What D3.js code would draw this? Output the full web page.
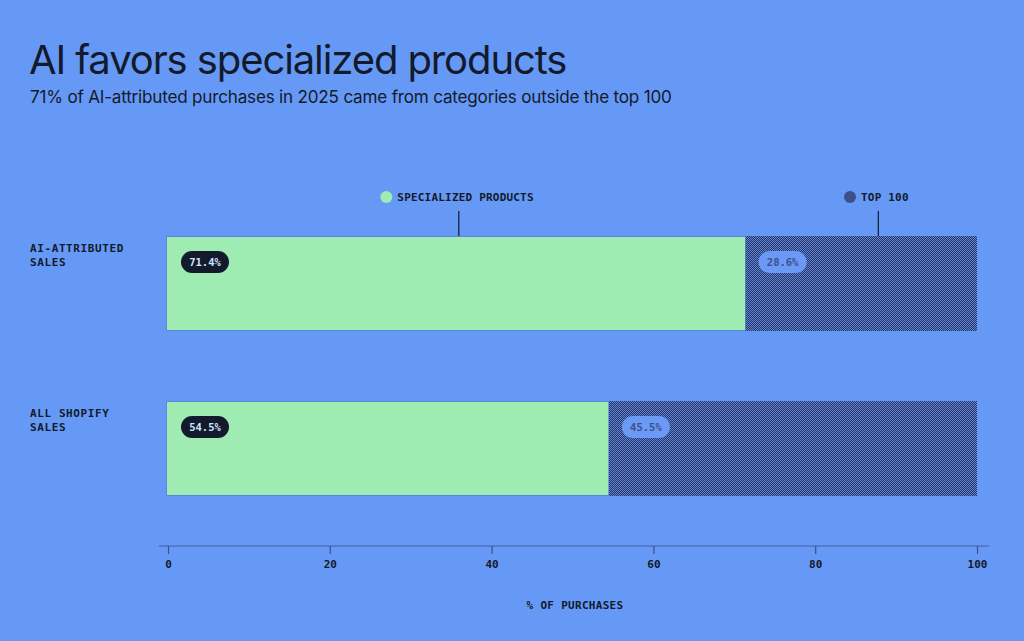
<!DOCTYPE html>
<html><head><meta charset="utf-8">
<script src="https://cdn.jsdelivr.net/npm/d3@7"></script>
<style>
html,body{margin:0;padding:0;background:#6699f5;}
svg{display:block;}
</style></head>
<body>
<svg id="chart" width="1024" height="641"></svg>
<script>
const title = "AI favors specialized products";
const subtitle = "71% of AI-attributed purchases in 2025 came from categories outside the top 100";
const categories = [["AI-ATTRIBUTED","SALES"],["ALL SHOPIFY","SALES"]];
const specialized = [71.4, 54.5];
const top100 = [28.6, 45.5];
const seriesNames = ["SPECIALIZED PRODUCTS","TOP 100"];
const ticks = [0,20,40,60,80,100];
const axisTitle = "% OF PURCHASES";

const bg = "#6699f5", green = "#9eecb1", navy = "#3d4f86";
const mono = "'DejaVu Sans Mono', 'Liberation Mono', monospace";
const svg = d3.select("#chart");

svg.append("rect").attr("width",1024).attr("height",641).attr("fill",bg);

const defs = svg.append("defs");
const pat = defs.append("pattern").attr("id","checker").attr("width",2).attr("height",2).attr("patternUnits","userSpaceOnUse");
pat.append("rect").attr("width",2).attr("height",2).attr("fill","#28335e");
pat.append("rect").attr("x",0).attr("y",0).attr("width",1).attr("height",1).attr("fill","#5f86dc");
pat.append("rect").attr("x",1).attr("y",1).attr("width",1).attr("height",1).attr("fill","#5f86dc");

svg.append("text").attr("x",29).attr("y",74).text(title)
  .attr("font-family","Inter, 'Noto Sans', sans-serif").attr("font-size",40).attr("letter-spacing",-1.1)
  .attr("fill","#121a2c");
svg.append("text").attr("x",30).attr("y",103).text(subtitle)
  .attr("font-family","Inter, 'Noto Sans', sans-serif").attr("font-size",17.1).attr("letter-spacing",-0.2)
  .attr("fill","#121a2c");

const x = d3.scaleLinear().domain([0,100]).range([168,977]);
const y = d3.scaleBand().domain(d3.range(categories.length)).range([236,496]).paddingInner(0.424);

// category labels
categories.forEach((c,i)=>{
  const t = svg.append("text").attr("x",30).attr("y",y(i)+16)
    .attr("font-family",mono).attr("font-weight","bold").attr("font-size",11).attr("fill","#121a2c").attr("letter-spacing",0.6);
  c.forEach((line,j)=> t.append("tspan").attr("x",30).attr("dy", j===0?0:14).text(line));
});

// bars
const g = svg.append("g");
specialized.forEach((v,i)=>{
  g.append("rect").attr("x",x(0)-1.5).attr("y",y(i)+0.5).attr("width",x(v)-x(0)+1.5).attr("height",y.bandwidth()-1)
    .attr("fill",green).attr("stroke","#5b86e0").attr("stroke-width",1);
  g.append("rect").attr("x",x(v)).attr("y",y(i)).attr("width",x(v+top100[i])-x(v)).attr("height",y.bandwidth())
    .attr("fill","url(#checker)");
});

// pill labels
function pill(cx0, cy, txt, fill, color){
  const w = 48, h = 22;
  svg.append("rect").attr("x",cx0).attr("y",cy-h/2).attr("width",w).attr("height",h).attr("rx",11).attr("fill",fill);
  svg.append("text").attr("x",cx0+w/2).attr("y",cy+4).attr("text-anchor","middle").text(txt)
    .attr("font-family",mono).attr("font-weight","bold").attr("font-size",10.5).attr("fill",color);
}
specialized.forEach((v,i)=>{
  const cy = y(i)+26;
  pill(x(0)+13, cy, v.toFixed(1)+"%", "#121a2c", "#cfe3ff");
  pill(x(v)+13, cy, top100[i].toFixed(1)+"%", "#6a9af5", "#3d4f86");
});

// legend with leader lines
const legendX = [ (x(0)+x(specialized[0]))/2 + 2, (x(specialized[0])+x(100))/2 + 17 ];
const legendColors = [green, navy];
seriesNames.forEach((s,i)=>{
  const lx = legendX[i];
  const tw = s.length*6.8;
  const totalW = 12 + 5 + tw;
  const left = lx - totalW/2 - 2;
  svg.append("circle").attr("cx",left+6).attr("cy",197).attr("r",6).attr("fill",legendColors[i]);
  svg.append("text").attr("x",left+17).attr("y",201).text(s)
    .attr("font-family",mono).attr("font-weight","bold").attr("font-size",11).attr("fill","#121a2c").attr("letter-spacing",0.2);
  svg.append("line").attr("x1",lx).attr("x2",lx).attr("y1",211).attr("y2",y(0)).attr("stroke","#121a2c").attr("stroke-width",1.2);
});

// axis
const axisG = svg.append("g").attr("transform","translate(0,546)");
const axis = d3.axisBottom(x).tickValues(ticks).tickSize(8).tickPadding(6);
axisG.call(axis);
axisG.select(".domain").attr("d","M159,0H989").attr("stroke","#4a5f9e").attr("stroke-width",1.2);
axisG.selectAll(".tick line").attr("stroke","#3d4f86").attr("stroke-width",1.2);
axisG.selectAll(".tick text").attr("font-family",mono).attr("font-weight","bold").attr("font-size",11).attr("fill","#121a2c");

svg.append("text").attr("x",575).attr("y",609).attr("text-anchor","middle").text(axisTitle)
  .attr("font-family",mono).attr("font-weight","bold").attr("font-size",11).attr("fill","#121a2c").attr("letter-spacing",0.3);
</script>
</body></html>
